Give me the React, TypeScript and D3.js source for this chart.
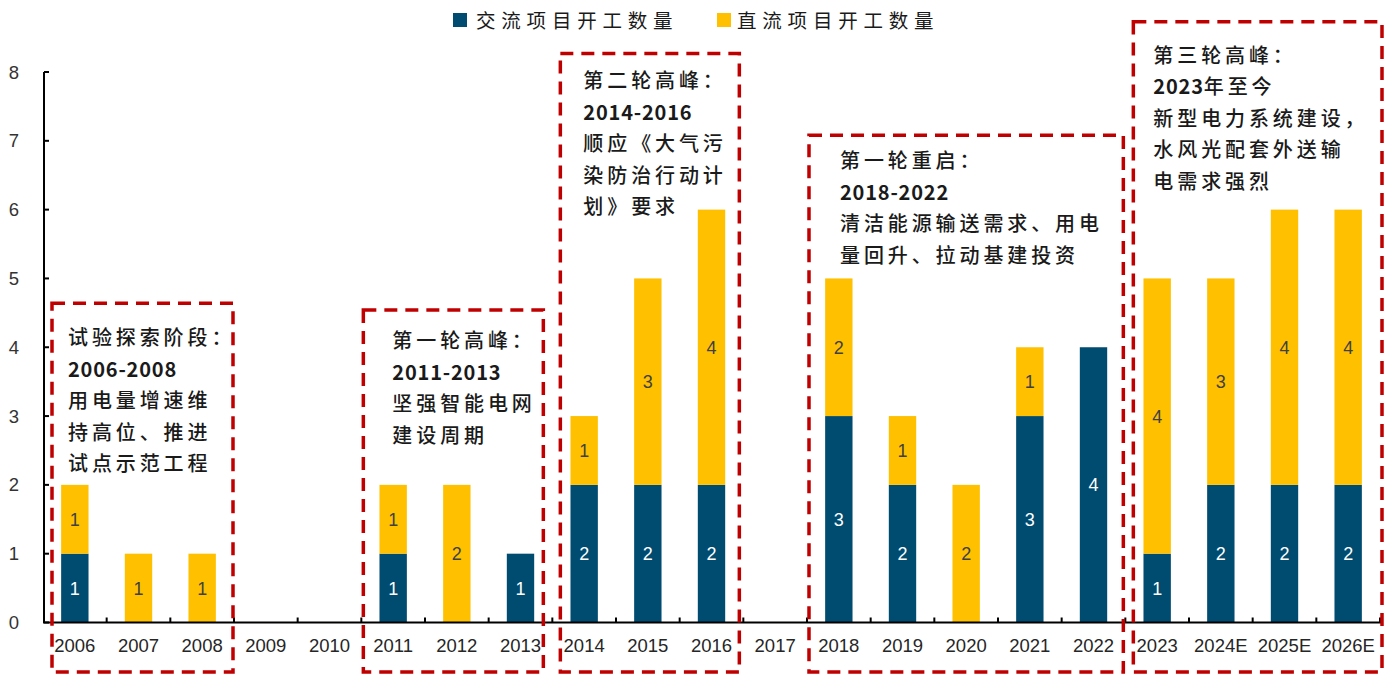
import React from "react";
import * as d3 from "d3";

const categories = ["2006","2007","2008","2009","2010","2011","2012","2013","2014","2015","2016","2017","2018","2019","2020","2021","2022","2023","2024E","2025E","2026E"];
const acValues = [1,0,0,0,0,1,0,1,2,2,2,0,3,2,0,3,4,1,2,2,2];
const dcValues = [1,1,1,0,0,1,2,0,1,3,4,0,2,1,2,1,0,4,3,4,4];
const yTicks = [0,1,2,3,4,5,6,7,8];
const seriesNames = ["交流项目开工数量", "直流项目开工数量"];

const annotations = [
  { from: "2006", to: "2008", top: 4.64, dl: 9, dr: -1, tx: 16, ty: 35, bold: "2006-2008", rest: "", lines: ["试验探索阶段：", "", "用电量增速维", "持高位、推进", "试点示范工程"] },
  { from: "2011", to: "2013", top: 4.54, dl: 2, dr: -9, tx: 29, ty: 31, bold: "2011-2013", rest: "", lines: ["第一轮高峰：", "", "坚强智能电网", "建设周期"] },
  { from: "2014", to: "2016", top: 8.27, dl: 8, dr: -4, tx: 23, ty: 28, bold: "2014-2016", rest: "", lines: ["第二轮高峰：", "", "顺应《大气污", "染防治行动计", "划》要求"] },
  { from: "2018", to: "2022", top: 7.08, dl: 2, dr: -2, tx: 31, ty: 26, bold: "2018-2022", rest: "", lines: ["第一轮重启：", "", "清洁能源输送需求、用电", "量回升、拉动基建投资"] },
  { from: "2023", to: "2026E", top: 8.73, dl: 8, dr: 2, tx: 20, ty: 34, bold: "2023", rest: "年至今", lines: ["第三轮高峰：", "", "新型电力系统建设，", "水风光配套外送输", "电需求强烈"] },
];

const W = 1394, H = 675;
const BLUE = "#004B70";
const YELLOW = "#FFC000";
const RED = "#C00000";
const CJK = "'Noto Sans CJK SC', 'Noto Sans', sans-serif";
const LAT = "'Liberation Sans', Arial, sans-serif";

export default function App() {
  const x = d3.scaleBand<string>().domain(categories).range([43, 1380]).padding(0);
  const y = d3.scaleLinear().domain([0, 8]).range([622.5, 72]);
  const step = x.bandwidth();
  const bw = step * 0.43;
  const y0 = y(0);

  return (
    <svg width={W} height={H} style={{ position: "absolute", left: 0, top: 0, background: "#fff" }}>
      {/* legend */}
      <g fontFamily={CJK} fontSize={19.5} fill="#1a1a1a">
        <rect x={453} y={13} width={14} height={14} fill={BLUE} />
        <text x={476} y={28} letterSpacing={5.8}>{seriesNames[0]}</text>
        <rect x={717} y={13} width={14} height={14} fill={YELLOW} />
        <text x={737} y={28} letterSpacing={5.8}>{seriesNames[1]}</text>
      </g>

      {/* bars */}
      {categories.map((c, i) => {
        const cx = (x(c) as number) + step / 2;
        const a = acValues[i], d = dcValues[i];
        return (
          <g key={c}>
            {a > 0 && (
              <rect x={cx - bw / 2} y={y(a)} width={bw} height={y0 - y(a)} fill={BLUE} />
            )}
            {d > 0 && (
              <rect x={cx - bw / 2} y={y(a + d)} width={bw} height={y(a) - y(a + d)} fill={YELLOW} />
            )}
            {a > 0 && (
              <text x={cx} y={(y0 + y(a)) / 2 + 6.5} textAnchor="middle" fontFamily={LAT} fontSize={18} fill="#fff">{a}</text>
            )}
            {d > 0 && (
              <text x={cx} y={(y(a) + y(a + d)) / 2 + 6.5} textAnchor="middle" fontFamily={LAT} fontSize={18} fill="#404040">{d}</text>
            )}
          </g>
        );
      })}

      {/* y axis */}
      <line x1={44} x2={44} y1={y(8)} y2={y0} stroke="#000" strokeWidth={2} />
      {yTicks.map((t) => (
        <g key={t}>
          <line x1={44} x2={49} y1={y(t)} y2={y(t)} stroke="#000" strokeWidth={2} />
          <text x={14} y={y(t) + 6.5} textAnchor="middle" fontFamily={LAT} fontSize={18.5} fill="#333">{t}</text>
        </g>
      ))}

      {/* x axis */}
      <line x1={43} x2={1381} y1={y0} y2={y0} stroke="#000" strokeWidth={2} />
      {categories.map((c) => (
        <g key={"t" + c}>
          <line x1={(x(c) as number) + step} x2={(x(c) as number) + step} y1={y0} y2={y0 - 5} stroke="#000" strokeWidth={2} />
          <text x={(x(c) as number) + step / 2} y={652} textAnchor="middle" fontFamily={LAT} fontSize={18.5} fill="#262626">{c}</text>
        </g>
      ))}

      {/* annotation boxes */}
      {annotations.map((an, k) => {
        const left = (x(an.from) as number) + an.dl;
        const right = (x(an.to) as number) + step + an.dr;
        const top = y(an.top);
        const bottom = 672;
        return (
          <g key={"a" + k}>
            <rect x={left} y={top} width={right - left} height={bottom - top} fill="none" stroke={RED} strokeWidth={3.5} strokeDasharray="13 8" />
            {an.lines.map((ln, j) => (
              <text
                key={j}
                x={left + an.tx}
                y={top + an.ty + j * 31.5 + 7}
                fontFamily={CJK}
                fontSize={20}
                fontWeight={500}
                letterSpacing={3.9}
                fill="#1a1a1a"
              >
                {j === 1 ? (
                  <>
                    <tspan fontWeight={700} letterSpacing={0.8}>{an.bold}</tspan>
                    {an.rest && <tspan>{an.rest}</tspan>}
                  </>
                ) : ln}
              </text>
            ))}
          </g>
        );
      })}
    </svg>
  );
}
